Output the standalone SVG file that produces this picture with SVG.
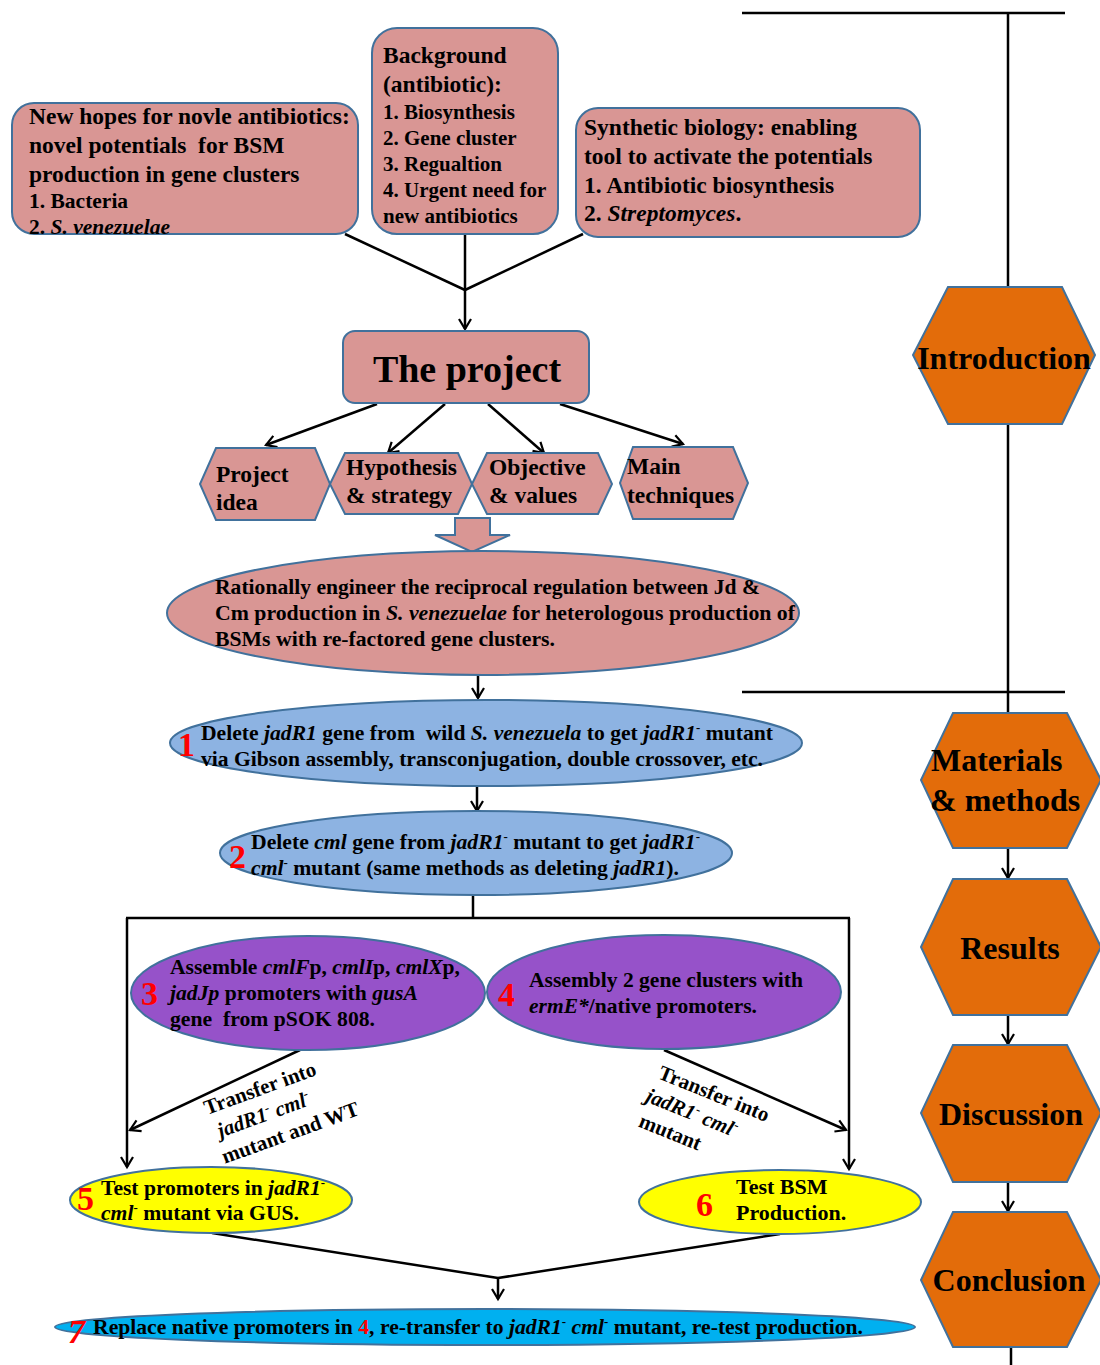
<svg xmlns="http://www.w3.org/2000/svg" width="1100" height="1365" viewBox="0 0 1100 1365">
<defs>
<style>
.t{font-family:"Liberation Serif","Times New Roman",serif;font-weight:bold;fill:#000}
.i{font-style:italic}
.sup{font-size:13px}
.num{font-family:"Liberation Serif","Times New Roman",serif;font-weight:bold;fill:#ff0000;font-size:34px}
.pink{fill:#d99694;stroke:#41719c;stroke-width:2}
.orange{fill:#e36c0a;stroke:#41719c;stroke-width:2}
.blue{fill:#8db3e2;stroke:#41719c;stroke-width:2}
.purple{fill:#9652c9;stroke:#41719c;stroke-width:2}
.yellow{fill:#ffff00;stroke:#41719c;stroke-width:2}
.cyan{fill:#00b0f0;stroke:#41719c;stroke-width:2}
.ln{stroke:#000;stroke-width:2.5;fill:none}
.ar{stroke:#000;stroke-width:2.5;fill:none;marker-end:url(#arr)}
</style>
<marker id="arr" markerUnits="userSpaceOnUse" markerWidth="16" markerHeight="16" viewBox="0 0 16 16" refX="13" refY="8" orient="auto">
<path d="M3,2 L13,8 L3,14" fill="none" stroke="#000" stroke-width="2.2"/>
</marker>
</defs>
<rect width="1100" height="1365" fill="#fff"/>

<g id="connectors">
<line class="ln" x1="345" y1="234" x2="465" y2="290"/>
<line class="ln" x1="583" y1="234" x2="465" y2="290"/>
<line class="ar" x1="465" y1="234" x2="465" y2="329"/>
<line class="ar" x1="377" y1="404" x2="266" y2="445"/>
<line class="ar" x1="445" y1="404" x2="388" y2="453"/>
<line class="ar" x1="488" y1="404" x2="544" y2="453"/>
<line class="ar" x1="560" y1="404" x2="683" y2="444"/>
<line class="ar" x1="478" y1="675" x2="478" y2="698"/>
<line class="ar" x1="477" y1="786" x2="477" y2="811"/>
<line class="ln" x1="473" y1="895" x2="473" y2="918"/>
<line class="ln" x1="126" y1="918" x2="850" y2="918"/>
<line class="ar" x1="127" y1="918" x2="127" y2="1167"/>
<line class="ar" x1="849" y1="918" x2="849" y2="1169"/>
<line class="ar" x1="300" y1="1050" x2="130" y2="1130"/>
<line class="ar" x1="664" y1="1050" x2="846" y2="1130"/>
<line class="ln" x1="212" y1="1233" x2="498" y2="1278"/>
<line class="ln" x1="780" y1="1234" x2="498" y2="1278"/>
<line class="ar" x1="498" y1="1277" x2="498" y2="1299"/>
<line class="ln" x1="742" y1="13" x2="1065" y2="13"/>
<line class="ln" x1="1008" y1="13" x2="1008" y2="288"/>
<line class="ln" x1="1008" y1="424" x2="1008" y2="713"/>
<line class="ln" x1="742" y1="692" x2="1065" y2="692"/>
<line class="ar" x1="1008" y1="848" x2="1008" y2="878"/>
<line class="ar" x1="1008" y1="1015" x2="1008" y2="1044"/>
<line class="ar" x1="1008" y1="1182" x2="1008" y2="1211"/>
<line class="ln" x1="1011" y1="1347" x2="1011" y2="1365"/>
</g>

<g id="new-hopes">
<rect class="pink" x="12" y="103" width="346" height="131" rx="22"/>
<text class="t" font-size="23.5" x="29" y="124">New hopes for novle antibiotics:</text>
<text class="t" font-size="23.5" x="29" y="153">novel potentials&#160; for BSM</text>
<text class="t" font-size="23.5" x="29" y="182">production in gene clusters</text>
<text class="t" font-size="21.5" x="29" y="208">1. Bacteria</text>
<text class="t" font-size="21.5" x="29" y="234">2. <tspan class="i">S. venezuelae</tspan></text>
</g>

<g id="background">
<rect class="pink" x="372" y="28" width="186" height="206" rx="25"/>
<text class="t" font-size="23.5" x="383" y="63">Background</text>
<text class="t" font-size="23.5" x="383" y="92">(antibiotic):</text>
<text class="t" font-size="21" x="383" y="119">1. Biosynthesis</text>
<text class="t" font-size="21" x="383" y="145">2. Gene cluster</text>
<text class="t" font-size="21" x="383" y="171">3. Regualtion</text>
<text class="t" font-size="21" x="383" y="197">4. Urgent need for</text>
<text class="t" font-size="21" x="383" y="223">new antibiotics</text>
</g>

<g id="synthetic-biology">
<rect class="pink" x="576" y="108" width="344" height="129" rx="22"/>
<text class="t" font-size="23.5" x="584" y="135">Synthetic biology: enabling</text>
<text class="t" font-size="23.5" x="584" y="164">tool to activate the potentials</text>
<text class="t" font-size="23.5" x="584" y="193">1. Antibiotic biosynthesis</text>
<text class="t" font-size="23.5" x="584" y="221">2. <tspan class="i">Streptomyces</tspan>.</text>
</g>

<g id="the-project">
<rect class="pink" x="343" y="331" width="246" height="72" rx="12"/>
<text class="t" font-size="38" x="467" y="382" text-anchor="middle">The project</text>
</g>

<g id="project-idea">
<polygon class="pink" points="216,448 315,448 330,484 315,520 216,520 200,484"/>
<text class="t" font-size="23.5" x="216" y="482">Project</text>
<text class="t" font-size="23.5" x="216" y="510">idea</text>
</g>
<g id="hypothesis">
<polygon class="pink" points="345,453 458,453 472,484 458,514 345,514 330,484"/>
<text class="t" font-size="23.5" x="346" y="475">Hypothesis</text>
<text class="t" font-size="23.5" x="346" y="503">&amp; strategy</text>
</g>
<g id="objective">
<polygon class="pink" points="487,453 598,453 612,484 598,514 487,514 472,484"/>
<text class="t" font-size="23.5" x="489" y="475">Objective</text>
<text class="t" font-size="23.5" x="489" y="503">&amp; values</text>
</g>
<g id="main-techniques">
<polygon class="pink" points="633,447 733,447 748,483 733,519 633,519 620,483"/>
<text class="t" font-size="23.5" x="627" y="474">Main</text>
<text class="t" font-size="23.5" x="627" y="503">techniques</text>
</g>

<g id="block-arrow">
<polygon class="pink" points="455,518 490,518 490,535 510,535 472,552 435,535 455,535"/>
</g>

<g id="aim">
<ellipse class="pink" cx="483" cy="613" rx="316" ry="62"/>
<text class="t" font-size="22" x="215" y="594" textLength="545" lengthAdjust="spacingAndGlyphs">Rationally engineer the reciprocal regulation between Jd &amp;</text>
<text class="t" font-size="22" x="215" y="620" textLength="580" lengthAdjust="spacingAndGlyphs">Cm production in <tspan class="i">S. venezuelae</tspan> for heterologous production of</text>
<text class="t" font-size="22" x="215" y="646" textLength="340" lengthAdjust="spacingAndGlyphs">BSMs with re-factored gene clusters.</text>
</g>

<g id="step1">
<ellipse class="blue" cx="486" cy="743" rx="316" ry="43"/>
<text class="num" x="178" y="756">1</text>
<text class="t" font-size="22" x="201" y="740" textLength="572" lengthAdjust="spacingAndGlyphs">Delete <tspan class="i">jadR1</tspan> gene from&#160; wild <tspan class="i">S. venezuela</tspan> to get <tspan class="i">jadR1</tspan><tspan class="sup" dy="-8">-</tspan><tspan dy="8"> mutant</tspan></text>
<text class="t" font-size="22" x="201" y="766" textLength="562" lengthAdjust="spacingAndGlyphs">via Gibson assembly, transconjugation, double crossover, etc.</text>
</g>

<g id="step2">
<ellipse class="blue" cx="476" cy="853" rx="256" ry="42"/>
<text class="num" x="229" y="868">2</text>
<text class="t" font-size="22" x="251" y="849" textLength="449" lengthAdjust="spacingAndGlyphs">Delete <tspan class="i">cml</tspan> gene from <tspan class="i">jadR1</tspan><tspan class="sup" dy="-8">-</tspan><tspan dy="8"> mutant to get </tspan><tspan class="i">jadR1</tspan><tspan class="sup" dy="-8">-</tspan></text>
<text class="t" font-size="22" x="251" y="875" textLength="428" lengthAdjust="spacingAndGlyphs"><tspan class="i">cml</tspan><tspan class="sup" dy="-8">-</tspan><tspan dy="8"> mutant (same methods as deleting </tspan><tspan class="i">jadR1</tspan>).</text>
</g>

<g id="step3">
<ellipse class="purple" cx="308" cy="993" rx="177" ry="57"/>
<text class="num" x="141" y="1005">3</text>
<text class="t" font-size="22" x="170" y="974" textLength="290" lengthAdjust="spacingAndGlyphs">Assemble <tspan class="i">cmlF</tspan>p, <tspan class="i">cmlI</tspan>p, <tspan class="i">cmlX</tspan>p,</text>
<text class="t" font-size="22" x="170" y="1000" textLength="248" lengthAdjust="spacingAndGlyphs"><tspan class="i">jadJp</tspan> promoters with <tspan class="i">gusA</tspan></text>
<text class="t" font-size="22" x="170" y="1026" textLength="205" lengthAdjust="spacingAndGlyphs">gene&#160; from pSOK 808.</text>
</g>

<g id="step4">
<ellipse class="purple" cx="664" cy="992" rx="177" ry="57"/>
<text class="num" x="498" y="1006">4</text>
<text class="t" font-size="22" x="529" y="987" textLength="274" lengthAdjust="spacingAndGlyphs">Assembly 2 gene clusters with</text>
<text class="t" font-size="22" x="529" y="1013" textLength="228" lengthAdjust="spacingAndGlyphs"><tspan class="i">ermE*</tspan>/native promoters.</text>
</g>

<g id="label-left">
<g transform="translate(207,1115) rotate(-20)">
<text class="t" font-size="21" x="0" y="0">Transfer into</text>
<text class="t" font-size="21" x="5" y="26"><tspan class="i">jadR1</tspan><tspan class="sup" dy="-8">-</tspan><tspan dy="8"> </tspan><tspan class="i">cml</tspan><tspan class="sup" dy="-8">-</tspan></text>
<text class="t" font-size="21" x="0" y="52">mutant and WT</text>
</g>
</g>

<g id="label-right">
<g transform="translate(657,1078) rotate(22)">
<text class="t" font-size="21" x="0" y="0">Transfer into</text>
<text class="t" font-size="21" x="-3" y="26"><tspan class="i">jadR1</tspan><tspan class="sup" dy="-8">-</tspan><tspan dy="8"> </tspan><tspan class="i">cml</tspan><tspan class="sup" dy="-8">-</tspan></text>
<text class="t" font-size="21" x="0" y="52">mutant</text>
</g>
</g>

<g id="step5">
<ellipse class="yellow" cx="211" cy="1200" rx="141" ry="33"/>
<text class="num" x="77" y="1210">5</text>
<text class="t" font-size="22" x="101" y="1195" textLength="224" lengthAdjust="spacingAndGlyphs">Test promoters in <tspan class="i">jadR1</tspan><tspan class="sup" dy="-8">-</tspan></text>
<text class="t" font-size="22" x="101" y="1220" textLength="198" lengthAdjust="spacingAndGlyphs"><tspan class="i">cml</tspan><tspan class="sup" dy="-8">-</tspan><tspan dy="8"> mutant via GUS.</tspan></text>
</g>

<g id="step6">
<ellipse class="yellow" cx="780" cy="1202" rx="141" ry="32"/>
<text class="num" x="696" y="1216">6</text>
<text class="t" font-size="22" x="736" y="1194">Test BSM</text>
<text class="t" font-size="22" x="736" y="1220">Production.</text>
</g>

<g id="step7">
<ellipse class="cyan" cx="485" cy="1327" rx="430" ry="18"/>
<text class="num i" x="68" y="1343">7</text>
<text class="t" font-size="22" x="93" y="1334" textLength="770" lengthAdjust="spacingAndGlyphs">Replace native promoters in <tspan fill="#ff0000">4</tspan>, re-transfer to <tspan class="i">jadR1</tspan><tspan class="sup" dy="-8">-</tspan><tspan dy="8"> </tspan><tspan class="i">cml</tspan><tspan class="sup" dy="-8">-</tspan><tspan dy="8"> mutant, re-test production.</tspan></text>
</g>

<g id="introduction">
<polygon class="orange" points="948,287 1062,287 1095,355 1062,424 948,424 913,355"/>
<text class="t" font-size="32" x="1004" y="369" text-anchor="middle">Introduction</text>
</g>
<g id="materials-methods">
<polygon class="orange" points="953,713 1067,713 1101,780 1067,848 953,848 921,780"/>
<text class="t" font-size="32" x="931" y="771">Materials</text>
<text class="t" font-size="32" x="930" y="811">&amp; methods</text>
</g>
<g id="results">
<polygon class="orange" points="953,879 1067,879 1101,947 1067,1015 953,1015 921,947"/>
<text class="t" font-size="32" x="1010" y="959" text-anchor="middle">Results</text>
</g>
<g id="discussion">
<polygon class="orange" points="953,1045 1067,1045 1101,1113 1067,1182 953,1182 921,1113"/>
<text class="t" font-size="32" x="1011" y="1125" text-anchor="middle">Discussion</text>
</g>
<g id="conclusion">
<polygon class="orange" points="953,1212 1067,1212 1101,1280 1067,1347 953,1347 921,1280"/>
<text class="t" font-size="32" x="1009" y="1291" text-anchor="middle">Conclusion</text>
</g>
</svg>
